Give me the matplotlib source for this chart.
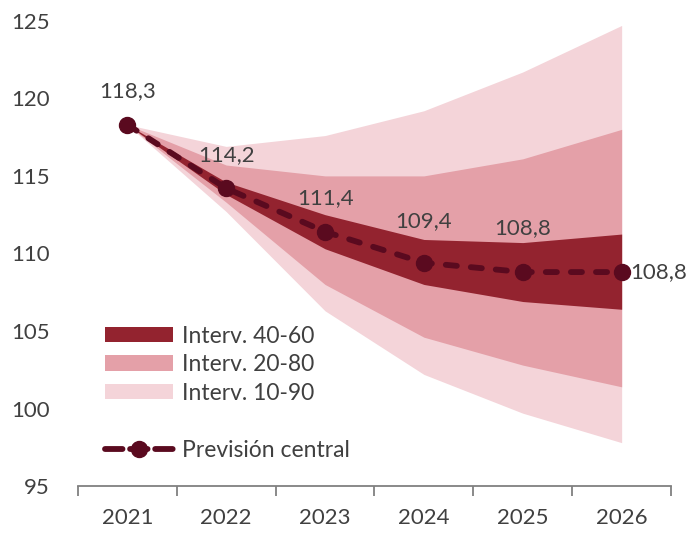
import matplotlib
matplotlib.use("Agg")
import matplotlib.pyplot as plt
from matplotlib.lines import Line2D
from matplotlib.patches import Patch

# data
years = ["2021", "2022", "2023", "2024", "2025", "2026"]
central = [118.3, 114.2, 111.4, 109.4, 108.8, 108.8]
central_labels = ["118,3", "114,2", "111,4", "109,4", "108,8", "108,8"]
p10 = [118.3, 112.7, 106.3, 102.2, 99.7, 97.8]
p20 = [118.3, 113.3, 108.0, 104.6, 102.8, 101.4]
p40 = [118.3, 113.8, 110.3, 108.0, 106.9, 106.4]
p60 = [118.3, 114.6, 112.5, 110.9, 110.7, 111.25]
p80 = [118.3, 115.7, 115.0, 115.0, 116.1, 118.0]
p90 = [118.3, 116.9, 117.6, 119.2, 121.7, 124.7]
y_ticks = [95, 100, 105, 110, 115, 120, 125]

c_dark = "#93232f"
c_mid = "#e4a0a8"
c_light = "#f4d4d9"
c_line = "#5a0a1f"
c_text = "#404040"

plt.rcParams["font.family"] = ["Lato", "DejaVu Sans"]

fig = plt.figure(figsize=(6.89, 5.33), dpi=100)
ax = fig.add_axes([0.113, 0.088, 0.861, 0.873])

x = list(range(len(years)))
ax.fill_between(x, p10, p90, color=c_light, lw=0)
ax.fill_between(x, p20, p80, color=c_mid, lw=0)
ax.fill_between(x, p40, p60, color=c_dark, lw=0)
ax.plot(x, central, color=c_line, lw=4.2, ls=(0, (1.9, 2.4)),
        marker="o", ms=11.5, dash_capstyle="round", zorder=5)

# value labels
offsets = [(0, 24), (0, 24), (0, 24), (0, 30), (0, 32)]
for i, (xo, yo) in enumerate(offsets):
    ax.annotate(central_labels[i], (x[i], central[i]), xytext=(xo, yo),
                textcoords="offset points", ha="center", va="center",
                fontsize=16, color=c_text)
ax.annotate(central_labels[-1], (x[-1], central[-1]), xytext=(6, 0),
            textcoords="offset points", ha="left", va="center",
            fontsize=16, color=c_text, annotation_clip=False)

ax.set_xlim(-0.5, 5.5)
ax.set_ylim(95, 125)
ax.set_xticks(x)
ax.set_xticklabels(years)
ax.set_xticks([i - 0.5 for i in range(len(years) + 1)], minor=True)
ax.set_yticks(y_ticks)
ax.tick_params(axis="x", which="major", length=0, pad=16, labelsize=16, labelcolor=c_text)
ax.tick_params(axis="x", which="minor", length=7, width=1.3, color="#808080", direction="out")
ax.tick_params(axis="y", length=0, pad=20, labelsize=16, labelcolor=c_text)
for s in ["top", "right", "left"]:
    ax.spines[s].set_visible(False)
ax.spines["bottom"].set_color("#808080")
ax.spines["bottom"].set_linewidth(1.3)

handles = [
    Patch(color=c_dark, lw=0),
    Patch(color=c_mid, lw=0),
    Patch(color=c_light, lw=0),
    Patch(color="none", lw=0),
    Line2D([], [], color=c_line, lw=4.2, ls=(0, (3.0, 1.3)), marker="o", ms=11.5,
           dash_capstyle="round"),
]
labels = ["Interv. 40-60", "Interv. 20-80", "Interv. 10-90", " ", "Previsión central"]
leg = ax.legend(handles, labels, loc="upper left", bbox_to_anchor=(0.045, 0.345),
                frameon=False, fontsize=16.5, handlelength=3.0, handleheight=0.65,
                handletextpad=0.4, labelspacing=0.33, borderpad=0, borderaxespad=0)
for t in leg.get_texts():
    t.set_color(c_text)

fig.savefig("out.png", dpi=100)
